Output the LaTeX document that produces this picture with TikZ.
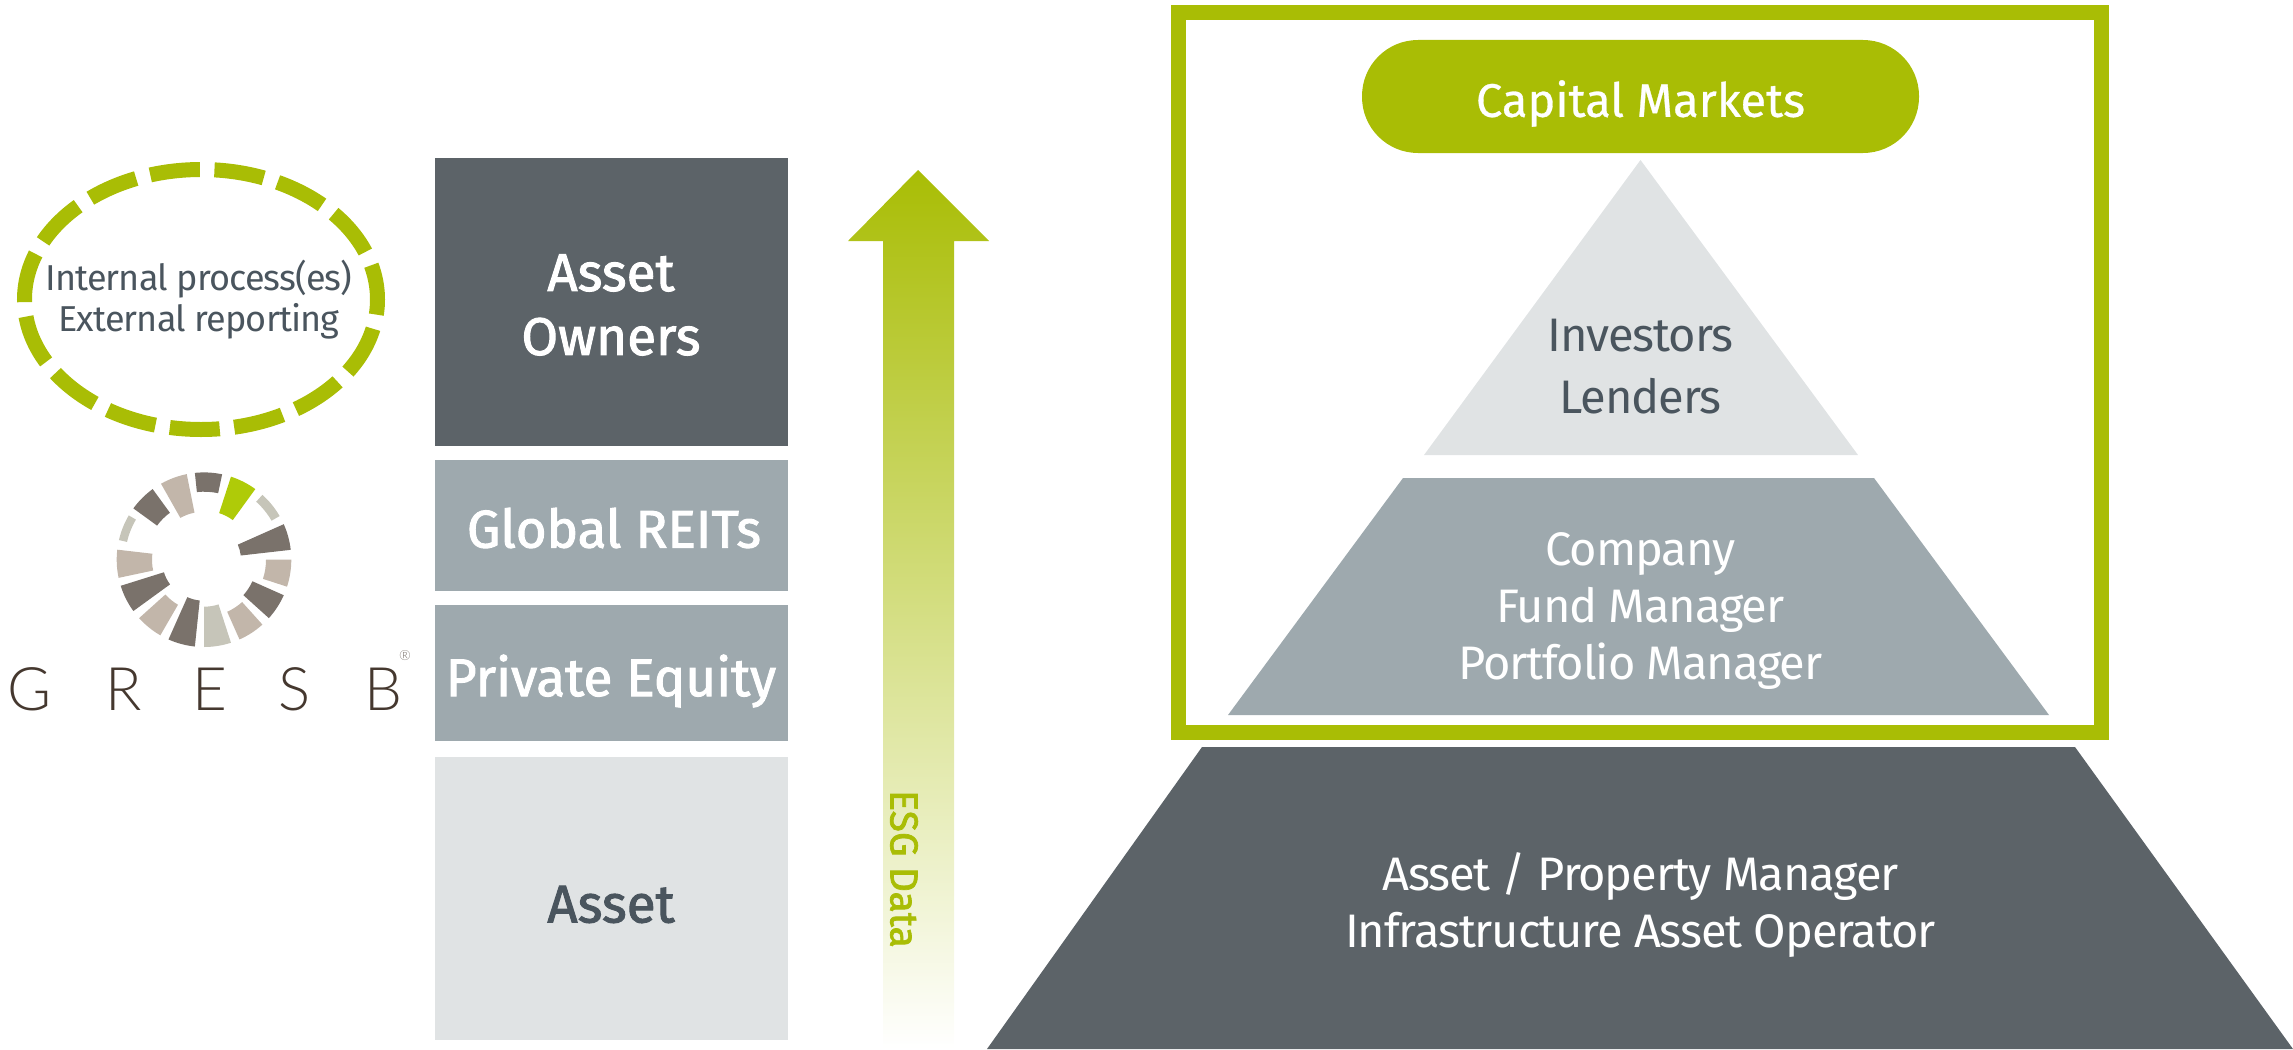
\documentclass[tikz,border=0pt]{standalone}
\usepackage{fontspec}
\setmainfont[LetterSpace=-2.4]{Fira Sans}
\newfontfamily\logofont{Lato Light}
\newfontfamily\barfont[FakeBold=1.8]{Fira Sans}
\newfontfamily\capfont[FakeBold=0.6]{Fira Sans}
\usetikzlibrary{shapes.geometric}
\definecolor{esggreen}{HTML}{A9BD05}
\definecolor{slatedark}{HTML}{5C6368}
\definecolor{slatemid}{HTML}{9EA9AE}
\definecolor{slatelight}{HTML}{E0E3E4}
\definecolor{inktext}{HTML}{4A555E}
\definecolor{logodark}{HTML}{7A726B}
\definecolor{logotaupe}{HTML}{C2B6AA}
\definecolor{logopale}{HTML}{C6C5B9}
\definecolor{logogreen}{HTML}{AFCB08}
\definecolor{logoink}{HTML}{45382F}
\tikzset{
  barbox/.style={minimum width=353, inner sep=0, outer sep=0, align=center},
  bartext/.style={font=\barfont\fontsize{53}{64}\selectfont},
  pyrtext/.style={align=center, inner sep=0, font=\fontsize{47}{57}\selectfont},
  gresbletter/.style={logoink, inner sep=0, font=\logofont\fontsize{60}{60}\selectfont}
}
\begin{document}
\begin{tikzpicture}[x=1pt, y=-1pt]
    \useasboundingbox (0, 0) rectangle (2293, 1049);
    % left column
    \node[barbox, fill=slatedark, minimum height=288] (owners) at (611.5, 302) {};
    \node[barbox, bartext, text=white] (ownerstext) at (611, 305) {Asset\\Owners};
    \node[barbox, fill=slatemid, minimum height=131] (reits) at (611.5, 525.5) {};
    \node[barbox, bartext, text=white] (reitstext) at (614, 528) {Global REITs};
    \node[barbox, fill=slatemid, minimum height=136] (equity) at (611.5, 673) {};
    \node[barbox, bartext, text=white] (equitytext) at (611, 681) {Private Equity};
    \node[barbox, fill=slatelight, minimum height=283] (asset) at (611.5, 898.5) {};
    \node[barbox, bartext, text=inktext] (assettext) at (611, 904.5) {Asset};
    % arrow
    \shade[top color=esggreen, bottom color=white] (918, 170) -- (989, 241) -- (954, 241) -- (954, 1049) -- (883, 1049) -- (883, 241) -- (848, 241) -- cycle;
    \node[rotate=-90, esggreen, inner sep=0, font=\barfont\fontsize{39}{39}\selectfont] (esg) at (904, 869) {ESG Data};
    % right side
    \draw[esggreen, line width=15] (1178.5, 12.5) rectangle (2101.5, 732.5);
    \node[fill=esggreen, rounded corners=56pt, minimum width=557, minimum height=113, inner sep=0] (capital) at (1640.5, 96.5) {};
    \node[text=white, inner sep=0, font=\capfont\fontsize{47}{57}\selectfont] (capitaltext) at (1640.5, 103.5) {Capital Markets};
    \fill[slatelight] (1640.5, 160) -- (1858, 455) -- (1424, 455) -- cycle;
    \node[pyrtext, inktext, font=\fontsize{47}{62}\selectfont] (investors) at (1640.5, 367) {Investors\\Lenders};
    \fill[slatemid] (1403, 478) -- (1874, 478) -- (2049, 715) -- (1228, 715) -- cycle;
    \node[pyrtext, white] (managers) at (1640.5, 611) {Company\\Fund Manager\\Portfolio Manager};
    \fill[slatedark] (1202, 747) -- (2075, 747) -- (2293, 1049) -- (987, 1049) -- cycle;
    \node[pyrtext, white] (operators) at (1640.5, 905) {Asset / Property Manager\\Infrastructure Asset Operator};
    % dashed ellipse
    \node[ellipse, draw=esggreen, line width=15, dash pattern=on 50pt off 14.56pt, dash phase=15pt, minimum width=353, minimum height=260, inner sep=0, outer sep=0] (process) at (201, 299.5) {};
    \node[inktext, align=center, inner sep=0, font=\fontsize{36}{41}\selectfont] (processtext) at (199, 300) {Internal process(es)\\External reporting};
    % logo
    \begin{scope}[shift={(204, 559.7)}, yscale=-1]
      \foreach \a/\b/\ri/\col in {78/96/68/logodark, 54/72/49/logogreen, 30/48/78/logopale, 6.5/24/37/logodark,
          -18/0/62/logotaupe, -42/-24/53/logodark, -66/-48/57/logotaupe, -90/-72/47/logopale,
          -114/-96/41/logodark, -138/-120/52/logotaupe, -162.6/-144/42/logodark, -186.6/-168/52/logotaupe,
          149.5/167/79/logopale, 126/144/58/logodark, 101.4/119.5/48/logotaupe}
        \fill[\col] (\a:87.3) arc[start angle=\a, end angle=\b, radius=87.3] -- (\b:\ri) arc[start angle=\b, end angle=\a, radius=\ri] -- cycle;
    \end{scope}
    \node[gresbletter] (g) at (30, 689.5) {G};
    \node[gresbletter] (r) at (124, 689.5) {R};
    \node[gresbletter] (e) at (210, 689.5) {E};
    \node[gresbletter] (s) at (295, 689.5) {S};
    \node[gresbletter] (b) at (383, 689.5) {B};
    \node[logodark, inner sep=0, font=\logofont\fontsize{14}{14}\selectfont] (reg) at (405, 656) {®};
  \end{tikzpicture}
\end{document}
